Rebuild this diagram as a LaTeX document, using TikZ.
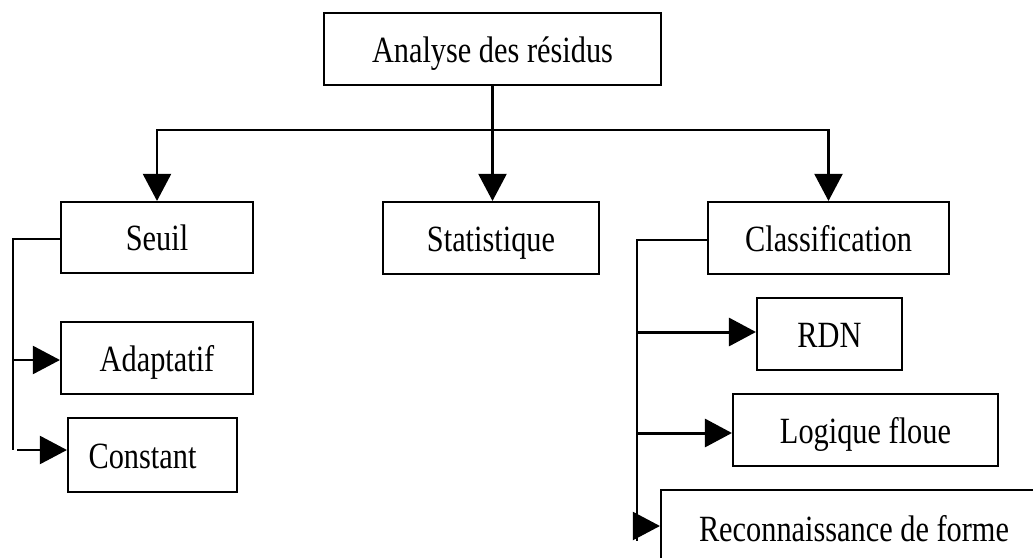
\documentclass[tikz,border=0pt]{standalone}
\usepackage{fontspec}
\setmainfont{Liberation Serif}[FakeStretch=0.82]
\usetikzlibrary{arrows.meta}
\begin{document}
\begin{tikzpicture}[x=1pt,y=-1pt,
  box/.style={draw, line width=2.1pt, rectangle, inner sep=0pt,
    font=\fontsize{37pt}{40pt}\selectfont, text height=26pt, text depth=0pt},
  link/.style={line width=2.1pt},
  arr/.style={link, -{Triangle[length=27pt,width=28pt]}},
  arrthick/.style={line width=3pt, -{Triangle[length=27pt,width=28pt]}}]
  \clip (0,0) rectangle (1033,557);
  \fill[white] (0,0) rectangle (1033,557);

  % boxes
  \node[box, minimum width=337pt, minimum height=72pt] (ana) at (492.5,49) {Analyse des résidus};
  \node[box, minimum width=192pt, minimum height=71pt] (seuil) at (157,237.5) {Seuil};
  \node[box, minimum width=216pt, minimum height=72pt] (stat) at (491,238) {Statistique};
  \node[box, minimum width=241pt, minimum height=72pt] (cls) at (828.5,238) {Classification};
  \node[box, minimum width=192pt, minimum height=72pt] (adap) at (157,358) {Adaptatif};
  \node[box, minimum width=169pt, minimum height=74pt] (const) at (152.5,455) {\hspace*{-20pt}Constant};
  \node[box, minimum width=145pt, minimum height=72pt] (rdn) at (829.5,334) {RDN};
  \node[box, minimum width=265pt, minimum height=72pt] (flou) at (865.5,430) {Logique floue};
  \node[box, minimum width=386pt, minimum height=76pt] (forme) at (854,528) {Reconnaissance de forme};

  % main branching
  \coordinate (bus) at (492,130);
  \draw[arr] (ana.south) -- (ana.south |- stat.north);
  \draw[arr] (ana.south |- bus) -| (seuil.north);
  \draw[arr] (ana.south |- bus) -| (cls.north);

  % threshold branch
  \coordinate (sTop) at (13,239);
  \coordinate (sBot) at (13,450);
  \coordinate (sA) at (13,360);
  \coordinate (sC) at (17,450);
  \draw[link] (seuil.west |- sTop) -- (sTop) -- (sBot);
  \draw[arr] (sA) -- (adap.west |- sA);
  \draw[arr] (sC) -- (const.west |- sC);

  % classification branch
  \coordinate (cTop) at (637,240);
  \coordinate (cBot) at (637,541);
  \coordinate (cR) at (637,332);
  \coordinate (cL) at (637,433);
  \coordinate (cF) at (633,526);
  \draw[link] (cls.west |- cTop) -- (cTop) -- (cBot);
  \draw[arrthick] (cR) -- (rdn.west |- cR);
  \draw[arrthick] (cL) -- (flou.west |- cL);
  \draw[arr] (cF) -- (forme.west |- cF);
\end{tikzpicture}
\end{document}
